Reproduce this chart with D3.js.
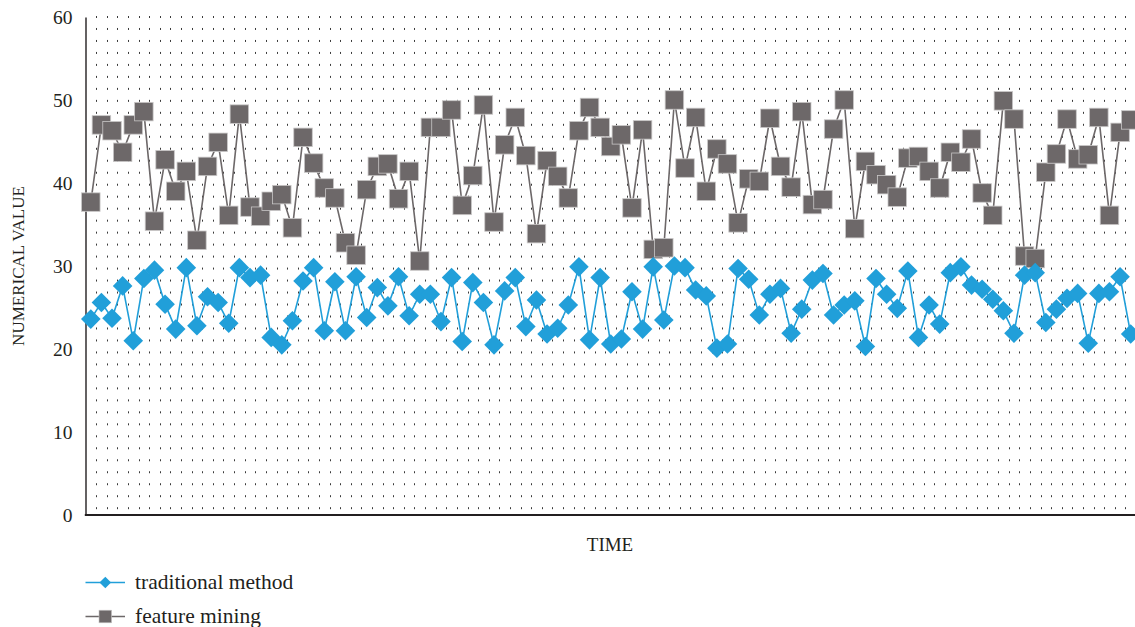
<!DOCTYPE html>
<html>
<head>
<meta charset="utf-8">
<script src="https://cdn.jsdelivr.net/npm/d3@7/dist/d3.min.js"></script>
<style>
  html, body { margin: 0; padding: 0; background: #fff; }
  svg { display: block; }
  text { font-family: "Liberation Serif", "DejaVu Serif", serif; fill: #231f20; }
</style>
</head>
<body>
<svg id="chart" width="1135" height="627"></svg>
<script>
// Time steps along the horizontal axis
const timeSteps = d3.range(1, 100);

// Series values, one per time step
const traditionalMethod = [
  23.6, 25.6, 23.7, 27.6, 21.0, 28.5, 29.5, 25.4, 22.4, 29.8,
  22.8, 26.3, 25.6, 23.1, 29.8, 28.6, 28.9, 21.4, 20.5, 23.4,
  28.2, 29.8, 22.2, 28.1, 22.2, 28.7, 23.8, 27.4, 25.2, 28.7,
  24.0, 26.6, 26.6, 23.3, 28.6, 20.9, 28.0, 25.6, 20.5, 27.0,
  28.6, 22.7, 25.9, 21.8, 22.5, 25.3, 29.9, 21.1, 28.6, 20.6,
  21.2, 26.9, 22.4, 29.9, 23.5, 30.0, 29.8, 27.1, 26.4, 20.1,
  20.6, 29.7, 28.4, 24.1, 26.6, 27.3, 21.9, 24.8, 28.3, 29.1,
  24.1, 25.3, 25.8, 20.3, 28.5, 26.6, 24.9, 29.4, 21.4, 25.3,
  23.0, 29.2, 29.9, 27.7, 27.2, 26.0, 24.6, 21.9, 28.9, 29.2,
  23.2, 24.8, 26.1, 26.7, 20.7, 26.7, 26.9, 28.7, 21.8
];

const featureMining = [
  37.7, 47.0, 46.3, 43.7, 47.0, 48.6, 35.4, 42.8, 39.0, 41.4,
  33.1, 42.0, 44.9, 36.1, 48.3, 37.1, 36.0, 37.8, 38.6, 34.6,
  45.5, 42.4, 39.4, 38.2, 32.8, 31.3, 39.2, 42.0, 42.3, 38.1,
  41.4, 30.6, 46.7, 46.7, 48.8, 37.3, 40.9, 49.4, 35.3, 44.6,
  47.9, 43.3, 33.9, 42.7, 40.8, 38.2, 46.3, 49.1, 46.7, 44.4,
  45.8, 37.0, 46.4, 32.0, 32.2, 50.0, 41.8, 47.9, 39.0, 44.1,
  42.3, 35.2, 40.5, 40.2, 47.8, 42.0, 39.5, 48.6, 37.4, 38.0,
  46.5, 50.0, 34.5, 42.6, 41.0, 39.8, 38.3, 43.0, 43.2, 41.4,
  39.4, 43.7, 42.5, 45.3, 38.8, 36.1, 49.9, 47.7, 31.2, 30.9,
  41.3, 43.5, 47.7, 42.9, 43.4, 47.9, 36.1, 46.1, 47.6
];

const yTickValues = [0, 10, 20, 30, 40, 50, 60];
const seriesNames = ["traditional method", "feature mining"];

const BLUE = "#219fd9";
const GREY = "#6d6869";
const SERIF = '"Liberation Serif", "DejaVu Serif", serif';

const svg = d3.select("#chart");
const plot = { left: 85.5, right: 1136, top: 17, bottom: 515 };

const x = d3.scaleBand()
  .domain(timeSteps)
  .range([plot.left, plot.right])
  .paddingInner(0).paddingOuter(0);
const cx = d => x(d) + x.bandwidth() / 2;

const y = d3.scaleLinear().domain([0, 60]).range([plot.bottom, plot.top]);

// Dotted vertical gridlines at category boundaries
svg.append("g")
  .selectAll("line")
  .data(timeSteps.slice(1))
  .join("line")
  .attr("x1", d => Math.round(x(d)) + 0.5)
  .attr("x2", d => Math.round(x(d)) + 0.5)
  .attr("y1", plot.top - 1)
  .attr("y2", plot.bottom)
  .attr("stroke", "#3a3a3a")
  .attr("stroke-width", 1)
  .attr("stroke-dasharray", "2,9.98");

// Y axis
const yAxis = svg.append("g")
  .attr("transform", `translate(${plot.left},0)`)
  .call(d3.axisLeft(y).tickValues(yTickValues).tickSize(0).tickPadding(13));
yAxis.attr("font-family", SERIF).attr("font-size", 19.5);
yAxis.select(".domain").attr("stroke", "#231f20").attr("stroke-width", 1.4);
yAxis.selectAll("text")
  .style("font-family", SERIF)
  .style("font-size", "19.5px")
  .attr("fill", "#231f20");

// X axis baseline
svg.append("line")
  .attr("x1", plot.left - 0.7).attr("x2", 1135)
  .attr("y1", plot.bottom).attr("y2", plot.bottom)
  .attr("stroke", "#231f20").attr("stroke-width", 2);

// Axis titles
svg.append("text")
  .attr("transform", `translate(24,266) rotate(-90)`)
  .attr("text-anchor", "middle")
  .style("font-size", "17px")
  .text("NUMERICAL VALUE");

svg.append("text")
  .attr("x", 610).attr("y", 551)
  .attr("text-anchor", "middle")
  .style("font-size", "19px")
  .text("TIME");

const line = d3.line().x((d, i) => cx(timeSteps[i])).y(d => y(d));

// Feature mining series
svg.append("path")
  .datum(featureMining)
  .attr("d", line)
  .attr("fill", "none")
  .attr("stroke", GREY)
  .attr("stroke-width", 1.6);

const sq = 18.5;
svg.append("g")
  .selectAll("rect")
  .data(featureMining)
  .join("rect")
  .attr("x", (d, i) => cx(timeSteps[i]) - sq / 2)
  .attr("y", d => y(d) - sq / 2)
  .attr("width", sq).attr("height", sq)
  .attr("fill", GREY)
  .attr("stroke", "#c9c7c7")
  .attr("stroke-width", 0.8);

// Traditional method series
svg.append("path")
  .datum(traditionalMethod)
  .attr("d", line)
  .attr("fill", "none")
  .attr("stroke", BLUE)
  .attr("stroke-width", 1.6);

const diamond = r => `M0,${-r}L${r},0L0,${r}L${-r},0Z`;
svg.append("g")
  .selectAll("path")
  .data(traditionalMethod)
  .join("path")
  .attr("transform", (d, i) => `translate(${cx(timeSteps[i])},${y(d)})`)
  .attr("d", diamond(9.8))
  .attr("fill", BLUE);

// Legend
const legend = svg.append("g");
const legendRows = [
  { name: seriesNames[0], color: BLUE, yPos: 582.5, marker: "diamond" },
  { name: seriesNames[1], color: GREY, yPos: 616.5, marker: "square" }
];
legendRows.forEach(r => {
  const g = legend.append("g").attr("transform", `translate(0,${r.yPos})`);
  g.append("line")
    .attr("x1", 85.5).attr("x2", 125)
    .attr("y1", 0).attr("y2", 0)
    .attr("stroke", r.color).attr("stroke-width", 1.4);
  if (r.marker === "diamond") {
    g.append("path")
      .attr("transform", "translate(105.3,0)")
      .attr("d", diamond(5.8))
      .attr("fill", r.color);
  } else {
    g.append("rect")
      .attr("x", 105.3 - 6.3).attr("y", -6.3)
      .attr("width", 12.6).attr("height", 12.6)
      .attr("fill", r.color)
      .attr("stroke", "#c9c7c7").attr("stroke-width", 0.6);
  }
  g.append("text")
    .attr("x", 135).attr("y", 6.5)
    .style("font-size", "21.5px")
    .text(r.name);
});
</script>
</body>
</html>
